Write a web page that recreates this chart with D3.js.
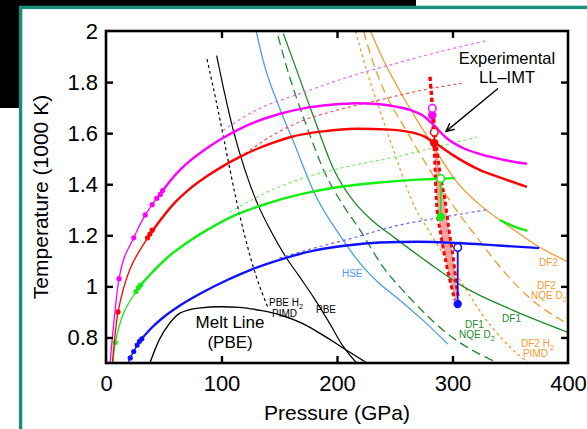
<!DOCTYPE html>
<html>
<head>
<meta charset="utf-8">
<script src="https://cdn.jsdelivr.net/npm/d3@7"></script>
<style>
  body { margin: 0; background: #fff; }
  svg { display: block; font-family: "Liberation Sans", Arial, sans-serif; }
</style>
</head>
<body>
<svg width="587" height="429"></svg>
<script>
// ---- data (pressure GPa, temperature 1000 K) ----
var xTicks = [0, 100, 200, 300, 400];
var yTicks = [0.8, 1, 1.2, 1.4, 1.6, 1.8, 2];

// simulation isochores: low-pressure sampled part + fitted part + dashed extension
var magentaSim = [[3.5,0.7],[11.3,1.03],[24,1.19],[34,1.28],[40,1.32],[44,1.345],[47,1.36],[49,1.375]];
var magentaFit = [[47,1.362],[55,1.41],[65,1.46],[75,1.50],[87,1.54],[99,1.575],[115,1.615],[130,1.645],[150,1.675],[171,1.697],[195,1.711],[217,1.717],[237,1.713],[252,1.703],[264,1.69],[274,1.67],[283,1.635],[295,1.58],[310,1.54],[324,1.518],[345,1.495],[364.5,1.48]];
var magentaDash = [[101,1.61],[130,1.69],[168,1.755],[210,1.82],[254,1.877],[290,1.92],[330,1.963]];

var redSim = [[5.5,0.7],[10.4,0.9],[36,1.19],[38,1.205],[40,1.22]];
var redFit = [[36,1.19],[48,1.265],[60,1.33],[72,1.38],[87,1.43],[101,1.47],[115,1.505],[130,1.537],[145,1.563],[160,1.585],[188,1.607],[217,1.617],[246,1.614],[262,1.605],[274,1.59],[284,1.564],[300,1.515],[324,1.455],[345,1.42],[364.5,1.39]];
var redDash = [[116,1.505],[140,1.58],[168,1.645],[200,1.69],[237,1.73],[270,1.765],[308,1.795]];

var greenSim = [[6,0.7],[8,0.78],[26,0.98],[28,0.995],[30,1.005]];
var greenFit = [[28,0.995],[40,1.055],[55,1.12],[73,1.18],[93,1.235],[110,1.275],[140,1.325],[168,1.36],[200,1.388],[237,1.407],[270,1.418],[290,1.422],[302,1.424]];
var greenTail = [[341,1.26],[353,1.235],[365,1.217]];
var greenDash = [[107,1.29],[140,1.37],[168,1.42],[210,1.47],[254,1.51],[290,1.55],[321,1.584]];

var blueSim = [[19,0.7],[21,0.72],[24,0.745],[27,0.77],[29,0.785],[31,0.795]];
var blueFit = [[29,0.785],[40,0.84],[50,0.88],[64,0.925],[85,0.98],[105,1.025],[127,1.068],[151,1.105],[180,1.14],[208,1.16],[237,1.172],[270,1.175],[304.5,1.17],[340,1.16],[375,1.15]];
var blueDash = [[150,1.11],[180,1.15],[210,1.185],[254,1.24],[290,1.27],[330,1.30]];

// transition points at the LL-IMT (open = insulating side, filled = metallic side)
var transP = [282.5, 284.2, 289.8, 304.5];
var transOpenT = [1.697, 1.604, 1.422, 1.152];
var transFillT = [1.67, 1.561, 1.272, 0.931];

// theory curves
var meltLine = [[38,0.7],[46,0.79],[55,0.855],[64,0.895],[80,0.915],[100,0.92],[115,0.918],[135,0.905],[151,0.888],[170,0.855],[185,0.817],[208,0.751],[226,0.70]];
var pbeLine = [[95.8,1.904],[103,1.75],[110,1.615],[120,1.46],[131,1.325],[143,1.215],[155,1.12],[168,1.035],[180,0.955],[193,0.86],[205.5,0.764],[217,0.70]];
var pbePimdLine = [[87.5,1.89],[97,1.69],[105,1.51],[112,1.355],[120,1.2],[130,1.04],[140.5,0.914]];
var hseLine = [[130,2.0],[136,1.885],[151,1.69],[162,1.57],[181,1.36],[204,1.19],[220,1.09],[237,1.01],[254.5,0.946],[275,0.865],[296,0.774]];
var df1Line = [[153.5,1.99],[162,1.885],[180,1.66],[197,1.46],[215,1.33],[230,1.26],[250,1.19],[280,1.09],[309,1.0],[352,0.907],[400,0.82]];
var df1NqeLine = [[149,1.98],[156,1.865],[174,1.624],[190,1.44],[205,1.32],[220,1.22],[240,1.075],[260,0.97],[295,0.817],[339,0.70]];
var df2Line = [[229,2.0],[237,1.917],[255,1.76],[275,1.61],[290,1.5],[303.6,1.409],[321,1.33],[352,1.225],[373,1.16],[400,1.096]];
var df2NqeLine = [[223,2.0],[231,1.88],[240,1.775],[260,1.61],[280.5,1.455],[300,1.32],[324,1.175],[347,1.045],[364,0.966],[400,0.852]];
var df2PimdLine = [[216,2.0],[226,1.84],[237,1.69],[250,1.52],[264.7,1.337],[282,1.2],[302,1.057],[332.5,0.849],[355.6,0.738],[366,0.70]];

// experimental LL-IMT band edges
var llLeft = [[280.5,1.82],[282,1.72],[283.5,1.6],[285,1.45],[286,1.337],[290,1.2],[295,1.08],[299,1.0],[302,0.946]];
var llRight = [[280.5,1.82],[282.5,1.72],[285,1.6],[289,1.45],[293.5,1.337],[297,1.22],[301,1.1],[303.5,1.0],[305,0.96]];

// ---- layout ----
var svg = d3.select("svg");
var x = d3.scaleLinear().domain([0, 400]).range([106, 568]);
var y = d3.scaleLinear().domain([0.7, 2]).range([363, 31]);

// slide background: black corner, teal frame
svg.append("rect").attr("x", 0).attr("y", 0).attr("width", 416).attr("height", 6).attr("fill", "#000");
svg.append("rect").attr("x", 0).attr("y", 0).attr("width", 19).attr("height", 108).attr("fill", "#000");
svg.append("rect").attr("x", 20.6).attr("y", 7.4).attr("width", 600).attr("height", 450)
    .attr("fill", "#fff").attr("stroke", "#16907a").attr("stroke-width", 3.4);

svg.append("clipPath").attr("id", "plot")
  .append("rect").attr("x", x(0)).attr("y", y(2)).attr("width", x(400) - x(0)).attr("height", y(0.7) - y(2));

var g = svg.append("g").attr("clip-path", "url(#plot)");

var line = d3.line().x(function(d) { return x(d[0]); }).y(function(d) { return y(d[1]); })
    .curve(d3.curveMonotoneX);

function curve(data, color, width, dash) {
  g.append("path").datum(data)
    .attr("d", line)
    .attr("fill", "none")
    .attr("stroke", color)
    .attr("stroke-width", width)
    .attr("stroke-dasharray", dash || null);
}

// pink band
var band = llLeft.concat(llRight.slice().reverse());
g.append("path").datum(band)
  .attr("d", d3.line().x(function(d) { return x(d[0]); }).y(function(d) { return y(d[1]); }).curve(d3.curveLinearClosed))
  .attr("fill", "#f5a3a3").attr("stroke", "none");

// theory lines
curve(df2PimdLine, "#f59a30", 1.3, "3,3");
curve(df2NqeLine, "#f59a30", 1.3, "9,5");
curve(df2Line, "#f59a30", 1.3);
curve(df1NqeLine, "#1e8a2a", 1.3, "9,5");
curve(df1Line, "#1e8a2a", 1.3);
curve(hseLine, "#4a9de8", 1.3);
curve(pbePimdLine, "#000", 1.2, "3,3");
curve(pbeLine, "#000", 1.2);
curve(meltLine, "#000", 1.4);

// dashed extensions
curve(magentaDash, "#ee66ee", 1.2, "3,3");
curve(redDash, "#ee5555", 1.2, "3,3");
curve(greenDash, "#77ee66", 1.2, "3,3");
curve(blueDash, "#6666ee", 1.2, "3,3");

// experimental band edges
curve(llLeft, "#ff0000", 3, "4,3");
curve(llRight, "#ff0000", 3, "4,3");

// isochores
var iso = [
  { sim: blueSim, fit: blueFit, color: "#1010ff" },
  { sim: greenSim, fit: greenFit, color: "#11ee11" },
  { sim: redSim, fit: redFit, color: "#ff0000" },
  { sim: magentaSim, fit: magentaFit, color: "#ff00ff" }
];
iso.forEach(function(s) {
  curve(s.sim, s.color, 1.3);
  curve(s.fit, s.color, 2.4);
  g.selectAll(null).data(s.sim.slice(1)).join("circle")
    .attr("cx", function(d) { return x(d[0]); })
    .attr("cy", function(d) { return y(d[1]); })
    .attr("r", 2.6).attr("fill", s.color);
});
curve(greenTail, "#11ee11", 2.4);

// transition markers
var transColors = ["#ff00ff", "#ff0000", "#11ee11", "#1010ff"];
transP.forEach(function(p, i) {
  g.append("line")
    .attr("x1", x(p)).attr("x2", x(p))
    .attr("y1", y(transOpenT[i])).attr("y2", y(transFillT[i]))
    .attr("stroke", transColors[i]).attr("stroke-width", 1.8);
  g.append("circle").attr("cx", x(p)).attr("cy", y(transFillT[i])).attr("r", 4.2)
    .attr("fill", transColors[i]);
  g.append("circle").attr("cx", x(p)).attr("cy", y(transOpenT[i])).attr("r", 3.8)
    .attr("fill", "#fff").attr("stroke", transColors[i]).attr("stroke-width", 1.5);
});

// ---- axes ----
svg.append("rect")
  .attr("x", x(0)).attr("y", y(2)).attr("width", x(400) - x(0)).attr("height", y(0.7) - y(2))
  .attr("fill", "none").attr("stroke", "#000").attr("stroke-width", 2.6);

var fmt = d3.format("~g");
var axB = svg.append("g").attr("transform", "translate(0," + y(0.7) + ")")
  .call(d3.axisBottom(x).tickValues(xTicks).tickSize(-7).tickPadding(12).tickFormat(fmt));
var axT = svg.append("g").attr("transform", "translate(0," + y(2) + ")")
  .call(d3.axisTop(x).tickValues(xTicks.slice(1, -1)).tickSize(-7).tickFormat(""));
var axL = svg.append("g").attr("transform", "translate(" + x(0) + ",0)")
  .call(d3.axisLeft(y).tickValues(yTicks).tickSize(-7).tickPadding(8).tickFormat(fmt));
var axR = svg.append("g").attr("transform", "translate(" + x(400) + ",0)")
  .call(d3.axisRight(y).tickValues(yTicks.slice(0, -1)).tickSize(-7).tickFormat(""));
[axB, axT, axL, axR].forEach(function(a) {
  a.select(".domain").remove();
  a.selectAll("line").attr("stroke", "#000").attr("stroke-width", 2.4);
  a.selectAll("text").attr("fill", "#000").style("font-size", "22px")
    .style("font-family", "Liberation Sans, Arial, sans-serif");
});
axB.selectAll(".tick").filter(function(d) { return d === 0 || d === 400; }).select("line").remove();
axL.selectAll(".tick").filter(function(d) { return d === 2; }).select("line").remove();

svg.append("text").attr("x", x(200)).attr("y", 420).attr("text-anchor", "middle")
  .style("font-size", "21px").text("Pressure (GPa)");
svg.append("text").attr("transform", "translate(48," + y(1.35) + ") rotate(-90)")
  .attr("text-anchor", "middle").style("font-size", "21px").text("Temperature (1000 K)");

// ---- annotations ----
function label(p, t, txt, color, size, anchor, sub) {
  var el = svg.append("text").attr("x", x(p)).attr("y", y(t))
    .attr("fill", color).style("font-size", size + "px").attr("text-anchor", anchor || "start");
  el.append("tspan").text(txt);
  if (sub) el.append("tspan").attr("dy", size * 0.3).style("font-size", (size * 0.75) + "px").text(sub);
  return el;
}
label(347.2, 1.871, "Experimental", "#000", 16.5, "middle");
label(347.2, 1.796, "LL\u2013IMT", "#000", 16.5, "middle");

var arrow = { from: [339.4, 1.775], to: [294.4, 1.607] };
svg.append("line")
  .attr("x1", x(arrow.from[0])).attr("y1", y(arrow.from[1]))
  .attr("x2", x(arrow.to[0])).attr("y2", y(arrow.to[1]))
  .attr("stroke", "#000").attr("stroke-width", 1.4);
var ax2 = x(arrow.to[0]), ay2 = y(arrow.to[1]);
var ang = Math.atan2(ay2 - y(arrow.from[1]), ax2 - x(arrow.from[0]));
var hl = 9;
svg.append("path")
  .attr("d", "M" + (ax2 - hl * Math.cos(ang - 0.45)) + "," + (ay2 - hl * Math.sin(ang - 0.45)) +
             "L" + ax2 + "," + ay2 +
             "L" + (ax2 - hl * Math.cos(ang + 0.45)) + "," + (ay2 - hl * Math.sin(ang + 0.45)))
  .attr("fill", "none").attr("stroke", "#000").attr("stroke-width", 1.4);

label(107.4, 0.837, "Melt Line", "#000", 17, "middle");
label(107.4, 0.759, "(PBE)", "#000", 17, "middle");
label(141.1, 0.923, "PBE H", "#000", 10, "start", "2");
label(143.7, 0.881, "PIMD", "#000", 10);
label(181.8, 0.897, "PBE", "#000", 10);
label(204.3, 1.038, "HSE", "#4a9de8", 10);
label(374.9, 1.080, "DF2", "#f59a30", 10);
label(373.2, 0.989, "DF2", "#f59a30", 10);
label(368, 0.949, "NQE D", "#f59a30", 10, "start", "2");
label(342.9, 0.862, "DF1", "#1e8a2a", 10);
label(310.8, 0.836, "DF1", "#1e8a2a", 10);
label(305.6, 0.797, "NQE D", "#1e8a2a", 10, "start", "2");
label(359.3, 0.764, "DF2 H", "#f59a30", 10, "start", "2");
label(361.0, 0.725, "PIMD", "#f59a30", 10);
</script>
</body>
</html>
